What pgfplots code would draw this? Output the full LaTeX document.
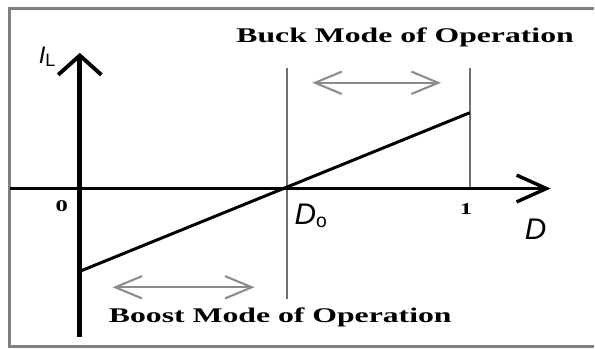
\documentclass[border=0pt]{standalone}
\usepackage{pgfplots}
\pgfplotsset{compat=1.18}
\usepackage{fontspec}
\usepackage{graphicx}
\setmainfont{Liberation Serif}
\newfontfamily\arial{Liberation Sans}
\usetikzlibrary{arrows.meta}

\definecolor{framegray}{HTML}{808080}
\definecolor{linegray}{HTML}{707070}
\definecolor{arrowgray}{HTML}{8C8C8C}

% wide bold serif text, as in the (horizontally stretched) original
\newcommand{\modetext}[1]{\scalebox{1.52}[1]{\fontsize{14}{16}\selectfont\bfseries #1}}
\newcommand{\ticktext}[1]{\scalebox{1.5}[1]{\fontsize{11}{12}\selectfont\bfseries #1}}

\begin{document}
\begin{tikzpicture}
\begin{axis}[
scale only axis,
width=14cm, height=8.212cm,
xmin=-0.2046, xmax=1.3171,
ymin=-1.60, ymax=1.89,
axis line style={draw=none},
xtick=\empty, ytick=\empty,
clip=false,
]
% frame (open on the right)
\addplot[framegray, line width=2pt] coordinates {
	(1.3171,1.80)
	(-0.179,1.80)
	(-0.179,-1.58)
	(1.3171,-1.58)
};
% vertical markers at D0 and 1
\addplot[linegray, line width=1.4pt] coordinates {(0.532,1.21) (0.532,-1.11)};
\addplot[linegray, line width=1.4pt] coordinates {(1,1.21) (1,0)};
% axes
\addplot[black, line width=2.3pt, -{Straight Barb[length=20pt,width=18pt,line width=2.3pt]}]
coordinates {(-0.179,0) (1.207,0)};
\addplot[black, line width=3.2pt, -{Straight Barb[length=13pt,width=29pt,line width=2.6pt]}]
coordinates {(0,-1.49) (0,1.36)};
% inductor current vs duty ratio
\addplot[black, line width=2pt] coordinates {
	(0,-0.83)
	(1,0.76)
};
% mode ranges
\addplot[arrowgray, line width=1.4pt, {Straight Barb[length=18pt,width=15pt]}-{Straight Barb[length=18pt,width=15pt]}]
coordinates {(0.596,1.06) (0.926,1.06)};
\addplot[arrowgray, line width=1.4pt, {Straight Barb[length=18pt,width=15pt]}-{Straight Barb[length=18pt,width=15pt]}]
coordinates {(0.084,-0.99) (0.448,-0.99)};
% labels
\node at (axis cs:0.834,1.52) {\modetext{Buck Mode of Operation}};
\node at (axis cs:0.514,-1.29) {\modetext{Boost Mode of Operation}};
\node at (axis cs:-0.046,-0.18) {\ticktext{0}};
\node at (axis cs:0.990,-0.21) {\ticktext{1}};
\node at (axis cs:-0.084,1.32) {\arial{\fontsize{16}{18}\selectfont\itshape I}\raisebox{-2pt}{\fontsize{12}{14}\selectfont L}};
\node[anchor=west, inner sep=0pt] at (axis cs:0.55,-0.27) {\arial{\fontsize{20}{22}\selectfont\itshape D}\raisebox{-2pt}{\fontsize{13}{14}\selectfont o}};
\node at (axis cs:1.169,-0.41) {\arial\fontsize{20}{22}\selectfont\itshape D};
\end{axis}
\end{tikzpicture}
\end{document}
